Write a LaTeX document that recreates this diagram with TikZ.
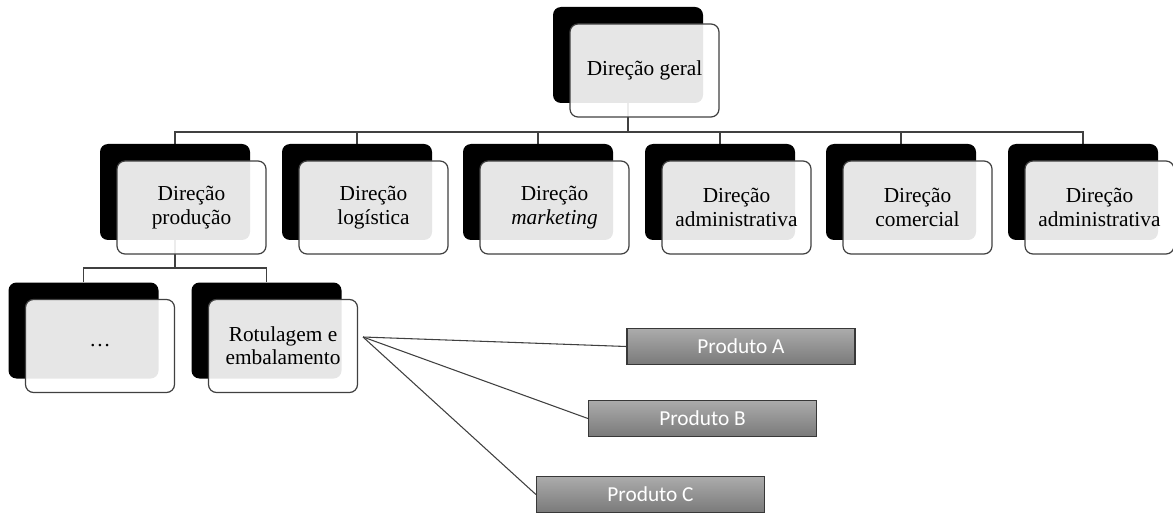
\documentclass[tikz,border=0pt]{standalone}
\usepackage{fontspec}
\setmainfont{Liberation Serif}
\newfontfamily\boxfont{Liberation Serif}
\newfontfamily\prodfont{Carlito}
\usepackage{tikz}
\pgfdeclarelayer{bg}
\pgfsetlayers{bg,main}
\tikzset{
    backbox/.style={rectangle, rounded corners=6pt, fill=black, inner sep=0pt,
        minimum width=112.5pt, minimum height=72pt},
    frontbox/.style={rectangle, rounded corners=6pt, draw=black!75, line width=.9pt,
        fill=white, fill opacity=.9, text opacity=1, inner sep=0pt,
        minimum width=111.75pt, minimum height=69.75pt, align=center,
        font=\boxfont\fontsize{16}{17.5}\selectfont},
    prodbox/.style={rectangle, draw=black!78, line width=.9pt, top color=black!33,
        bottom color=black!52, minimum width=171pt, minimum height=26.5pt,
        inner sep=0pt, text=white, font=\prodfont\fontsize{16}{19}\selectfont},
    conn/.style={draw=black!75, line width=.8pt}
}

\begin{document}
\begin{tikzpicture}[x=0.75pt, y=-0.75pt]
	\useasboundingbox (0,0) rectangle (1173,513);
	% top
	\node[backbox] (gb) at (628,55) {};
	\node[frontbox] (g) at (644.5,70.5) {Direção geral};
	% second row
	\node[backbox] (pb) at (175,192) {};
	\node[frontbox] (p) at (191.5,207.5) {Direção\\produção};
	\node[backbox] (lb) at (357,192) {};
	\node[frontbox] (l) at (373.5,207.5) {Direção\\logística};
	\node[backbox] (mb) at (538,192) {};
	\node[frontbox] (m) at (554.5,207.5) {Direção\\\textit{marketing}};
	\node[backbox] (ab) at (720,192) {};
	\node[frontbox] (a) at (736.5,207.5) {Direção\\administrativa};
	\node[backbox] (cb) at (901,192) {};
	\node[frontbox] (c) at (917.5,207.5) {Direção\\comercial};
	\node[backbox] (db) at (1083,192) {};
	\node[frontbox] (d) at (1099.5,207.5) {Direção\\administrativa};
	% third row
	\node[backbox] (eb) at (83.5,330.5) {};
	\node[frontbox] (e) at (100,346) {\dots};
	\node[backbox] (rb) at (266.5,330.5) {};
	\node[frontbox] (r) at (283,346) {Rotulagem e\\embalamento};
	% products
	\node[prodbox] (pa) at (741,346.5) {Produto A};
	\node[prodbox] (pbb) at (702.5,418.5) {Produto B};
	\node[prodbox] (pc) at (650.5,494.5) {Produto C};
	\coordinate (bus1) at (0,132);
	\coordinate (bus2) at (0,268);
	\coordinate (rp) at (363,337);
	\begin{pgfonlayer}{bg}
		\foreach \n in {pb,lb,mb,ab,cb,db}
			\draw[conn] (gb.center) |- (\n.north |- bus1) -- (\n.north);
		\foreach \n in {eb,rb}
			\draw[conn] (pb.center) |- (\n.north |- bus2) -- (\n.north);
	\end{pgfonlayer}
	\draw[conn] (rp) -- (pa.west);
	\draw[conn] (rp) -- (pbb.west);
	\draw[conn] (rp) -- (pc.west);
\end{tikzpicture}
\end{document}
